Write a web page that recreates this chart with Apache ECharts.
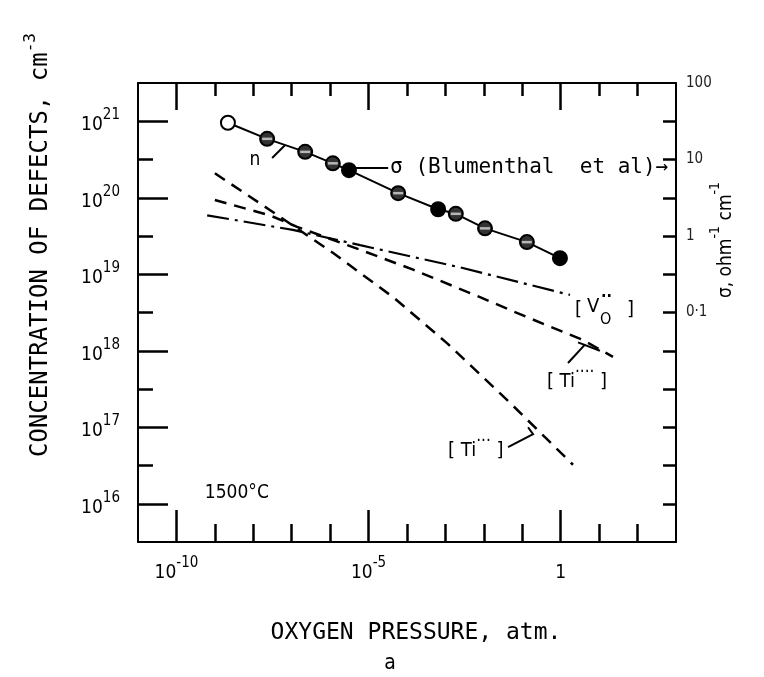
<!DOCTYPE html>
<html><head><meta charset="utf-8">
<script src="https://cdn.jsdelivr.net/npm/echarts@6/dist/echarts.min.js"></script>
<style>html,body{margin:0;padding:0;background:#fff}#c{width:764px;height:677px}</style>
</head><body><div id="c"></div>
<script>
// ---- data (log10 values) ----
// conductivity sigma (right axis), Blumenthal et al
const sigmaLogP = [-8.66, -7.64, -6.65, -5.93, -5.51, -4.23, -3.19, -2.73, -1.97, -0.88, -0.02];
const sigmaLogS = [1.48, 1.27, 1.10, 0.95, 0.86, 0.56, 0.35, 0.29, 0.10, -0.08, -0.29];
const sigmaKind = ['open','hatched','hatched','hatched','solid','hatched','solid','hatched','hatched','hatched','solid'];
// [V_O..] dash-dot
const voLogP = [-9.20, -6.97, -5.22, -2.62, 0.24];
const voLogN = [19.77, 19.58, 19.38, 19.09, 18.73];
// [Ti....] dashed
const ti4LogP = [-9.00, -7.57, -6.86, -5.22, -3.84, -2.10, -0.88, 0.58, 1.36];
const ti4LogN = [19.97, 19.77, 19.62, 19.32, 19.06, 18.70, 18.44, 18.14, 17.92];
// [Ti...] dashed (steep)
const ti3LogP = [-9.00, -7.57, -5.93, -4.36, -2.96, -1.32, 0.32];
const ti3LogN = [20.32, 19.84, 19.28, 18.70, 18.10, 17.32, 16.51];
// ticks / tick labels
const xMajor = [-10, -5, 0];
const xMajorLabels = [['10','-10'], ['10','-5'], ['1','']];
const xMinor = [-10,-9,-8,-7,-6,-5,-4,-3,-2,-1,0,1,2];
const yMajor = [16, 17, 18, 19, 20, 21];
const yMajorLabels = [['10','16'],['10','17'],['10','18'],['10','19'],['10','20'],['10','21']];
const yMinor = [16.5, 17.5, 18.5, 19.5, 20.5];
const y2Ticks = [1.5, 1, 0.5, 0, -0.5, -1, -1.5, -2, -2.5, -3, -3.5];
const y2LabelVals = [2, 1, 0, -1];
const y2Labels = ['100', '10', '1', '0·1'];

const FONT = '"DejaVu Sans Condensed","DejaVu Sans",sans-serif';
const MONO = '"DejaVu Sans Mono","Liberation Mono",monospace';
const xMin = -11, xMax = 3, yMin = 15.5, yMax = 21.5, y2Min = -4, y2Max = 2;

const chart = echarts.init(document.getElementById('c'));
const pairs = (a, b) => a.map((v, i) => [v, b[i]]);
const lineBlack = {color:'#000', width:2};
const supRich = {
  b:{fontSize:19, fontFamily:FONT, color:'#000', lineHeight:27, verticalAlign:'bottom'},
  s:{fontSize:15, fontFamily:FONT, color:'#000', lineHeight:27, verticalAlign:'top'}
};

function xAxisBase(pos, ticks, len, showLine, labels) {
  return {
    type:'value', position:pos, min:xMin, max:xMax,
    axisLine:{show:showLine, onZero:false, lineStyle:lineBlack},
    axisTick:{show:true, inside:true, length:len, customValues:ticks, lineStyle:{color:'#000', width:2.5}},
    axisLabel: labels ? {
      show:true, customValues:xMajor, margin:14,
      formatter:(v)=>{const i=xMajor.indexOf(Math.round(v)); const l=xMajorLabels[i]; return '{b|'+l[0]+'}'+(l[1]?'{s|'+l[1]+'}':'');},
      rich:supRich
    } : {show:false},
    splitLine:{show:false}
  };
}
function yAxisBase(pos, ticks, len, showLine, min, max) {
  return {
    type:'value', position:pos, min:min, max:max,
    axisLine:{show:showLine, onZero:false, lineStyle:lineBlack},
    axisTick:{show:true, inside:true, length:len, customValues:ticks, lineStyle:{color:'#000', width:2.5}},
    axisLabel:{show:false},
    splitLine:{show:false}
  };
}

const yLeft = yAxisBase('left', yMajor, 30, true, yMin, yMax);
yLeft.axisLabel = {
  show:true, customValues:yMajor, margin:18,
  formatter:(v)=>{const i=yMajor.indexOf(Math.round(v)); const l=yMajorLabels[i]; return '{b|'+l[0]+'}{s|'+l[1]+'}';},
  rich:supRich
};
const yRight = yAxisBase('right', y2Ticks, 13, true, y2Min, y2Max);
yRight.axisLabel = {
  show:true, customValues:y2LabelVals, margin:10, fontSize:15, fontFamily:FONT, color:'#222',
  formatter:(v)=>{let best=0;y2LabelVals.forEach((t,i)=>{if(Math.abs(t-v)<Math.abs(y2LabelVals[best]-v))best=i;});return y2Labels[best];}
};
const yLeftMinor = yAxisBase('left', yMinor, 15, false, yMin, yMax);

const sigmaData = sigmaLogP.map((x, i) => {
  const k = sigmaKind[i];
  return {value:[x, sigmaLogS[i]], itemStyle:{color: k==='open' ? '#fff' : (k==='solid' ? '#000' : '#333'), borderColor:'#000', borderWidth:2}};
});
const stripeData = sigmaLogP.map((x, i) => [x, sigmaLogS[i]]).filter((d, i) => sigmaKind[i] === 'hatched');

chart.setOption({
  animation:false,
  backgroundColor:'#fff',
  grid:{left:138, right:88, top:83, bottom:135, show:false},
  xAxis:[
    xAxisBase('bottom', xMajor, 32, true, true),
    xAxisBase('bottom', xMinor, 18, false, false),
    xAxisBase('top', xMajor, 27, true, false),
    xAxisBase('top', xMinor, 13, false, false)
  ],
  yAxis:[yLeft, yRight, yLeftMinor],
  series:[
    {type:'line', name:'sigma', xAxisIndex:0, yAxisIndex:1, data:sigmaData, symbol:'circle', symbolSize:14,
     lineStyle:{color:'#000', width:2}, z:5},
    {type:'scatter', name:'stripes', xAxisIndex:0, yAxisIndex:1, data:stripeData, symbol:'rect', symbolSize:[10,2.5],
     itemStyle:{color:'#d8d8d8'}, z:6, silent:true},
    {type:'line', name:'VO', xAxisIndex:0, yAxisIndex:0, data:pairs(voLogP, voLogN), symbol:'none',
     lineStyle:{color:'#000', width:2.2, type:[22,6,3,6]}},
    {type:'line', name:'Ti4', xAxisIndex:0, yAxisIndex:0, data:pairs(ti4LogP, ti4LogN), symbol:'none',
     lineStyle:{color:'#000', width:2.5, type:[12,8]}},
    {type:'line', name:'Ti3', xAxisIndex:0, yAxisIndex:0, data:pairs(ti3LogP, ti3LogN), symbol:'none',
     lineStyle:{color:'#000', width:2.5, type:[12,8]}}
  ]
});

// ---- annotations placed in data space ----
const P = (lx, ly) => chart.convertToPixel({seriesIndex:3}, [lx, ly]);
const txt = (pt, text, size, extra) => Object.assign({type:'text', x:pt[0], y:pt[1], silent:true,
  style:Object.assign({text:text, fontSize:size, fontFamily:FONT, fill:'#000', align:'left', verticalAlign:'middle'}, extra && extra.style || {})},
  extra && extra.el || {});
const poly = (pts) => ({type:'polyline', silent:true, shape:{points:pts}, style:{stroke:'#000', lineWidth:2, fill:null}});
const tiRich = {
  t:{fontSize:20, fontFamily:FONT, lineHeight:28, verticalAlign:'bottom'},
  s:{fontSize:17, fontFamily:FONT, lineHeight:28, verticalAlign:'top'}
};

const g = [];
// n label and leader
g.push(txt(P(-7.96, 20.49), 'n', 19, {style:{align:'center'}}));
g.push(poly([P(-7.51, 20.52), P(-7.17, 20.69)]));
// sigma leader + text
g.push(poly([P(-5.33, 20.39), P(-4.49, 20.39)]));
g.push(txt(P(-4.44, 20.39), 'σ (Blumenthal  et al)→', 21, {style:{fontFamily:MONO}}));
// [V_O..]
const vo = P(0.37, 18.53);
g.push(txt([vo[0], vo[1]], '[', 20));
g.push(txt([vo[0]+12, vo[1]-3], 'V', 20));
g.push(txt([vo[0]+25, vo[1]+10], 'O', 16));
g.push(txt([vo[0]+26, vo[1]-13], '··', 16, {style:{fontWeight:'bold'}}));
g.push(txt([vo[0]+52, vo[1]], ']', 20));
// [Ti....]
g.push(txt(P(-0.36, 17.64), '{t|[ Ti}{s|····}{t| ]}', 20, {style:{rich:tiRich}}));
g.push(poly([P(0.19, 17.84), P(0.63, 18.08)]));
g.push(poly([P(0.45, 18.11), P(1.02, 18.00)]));
// [Ti...]
g.push(txt(P(-2.93, 16.74), '{t|[ Ti}{s|···}{t| ]}', 20, {style:{rich:tiRich}}));
g.push(poly([P(-1.37, 16.74), P(-0.72, 16.91), P(-0.85, 17.00)]));
// temperature
g.push(txt(P(-9.26, 16.14), '1500°C', 19));

// ---- axis titles ----
g.push({type:'text', x:38, y:245, rotation:Math.PI/2, silent:true,
  style:{text:'{t|CONCENTRATION OF DEFECTS, cm}{s|-3}', align:'center', verticalAlign:'middle',
    rich:{t:{fontSize:24, fontFamily:MONO, lineHeight:30, verticalAlign:'bottom'},
          s:{fontSize:16, fontFamily:MONO, lineHeight:30, verticalAlign:'top'}}}});
g.push({type:'text', x:722, y:240, rotation:Math.PI/2, silent:true,
  style:{text:'{t|σ, ohm}{s|-1}{t| cm}{s|-1}', align:'center', verticalAlign:'middle',
    rich:{t:{fontSize:19, fontFamily:FONT, lineHeight:28, verticalAlign:'bottom'},
          s:{fontSize:14, fontFamily:FONT, lineHeight:28, verticalAlign:'top'}}}});
g.push({type:'text', x:416, y:633, silent:true,
  style:{text:'OXYGEN PRESSURE, atm.', fontSize:23, fontFamily:MONO, fill:'#000', align:'center', verticalAlign:'middle'}});
g.push({type:'text', x:390, y:664, silent:true,
  style:{text:'a', fontSize:21, fontFamily:FONT, fill:'#000', align:'center', verticalAlign:'middle'}});

chart.setOption({graphic:g});
</script></body></html>
